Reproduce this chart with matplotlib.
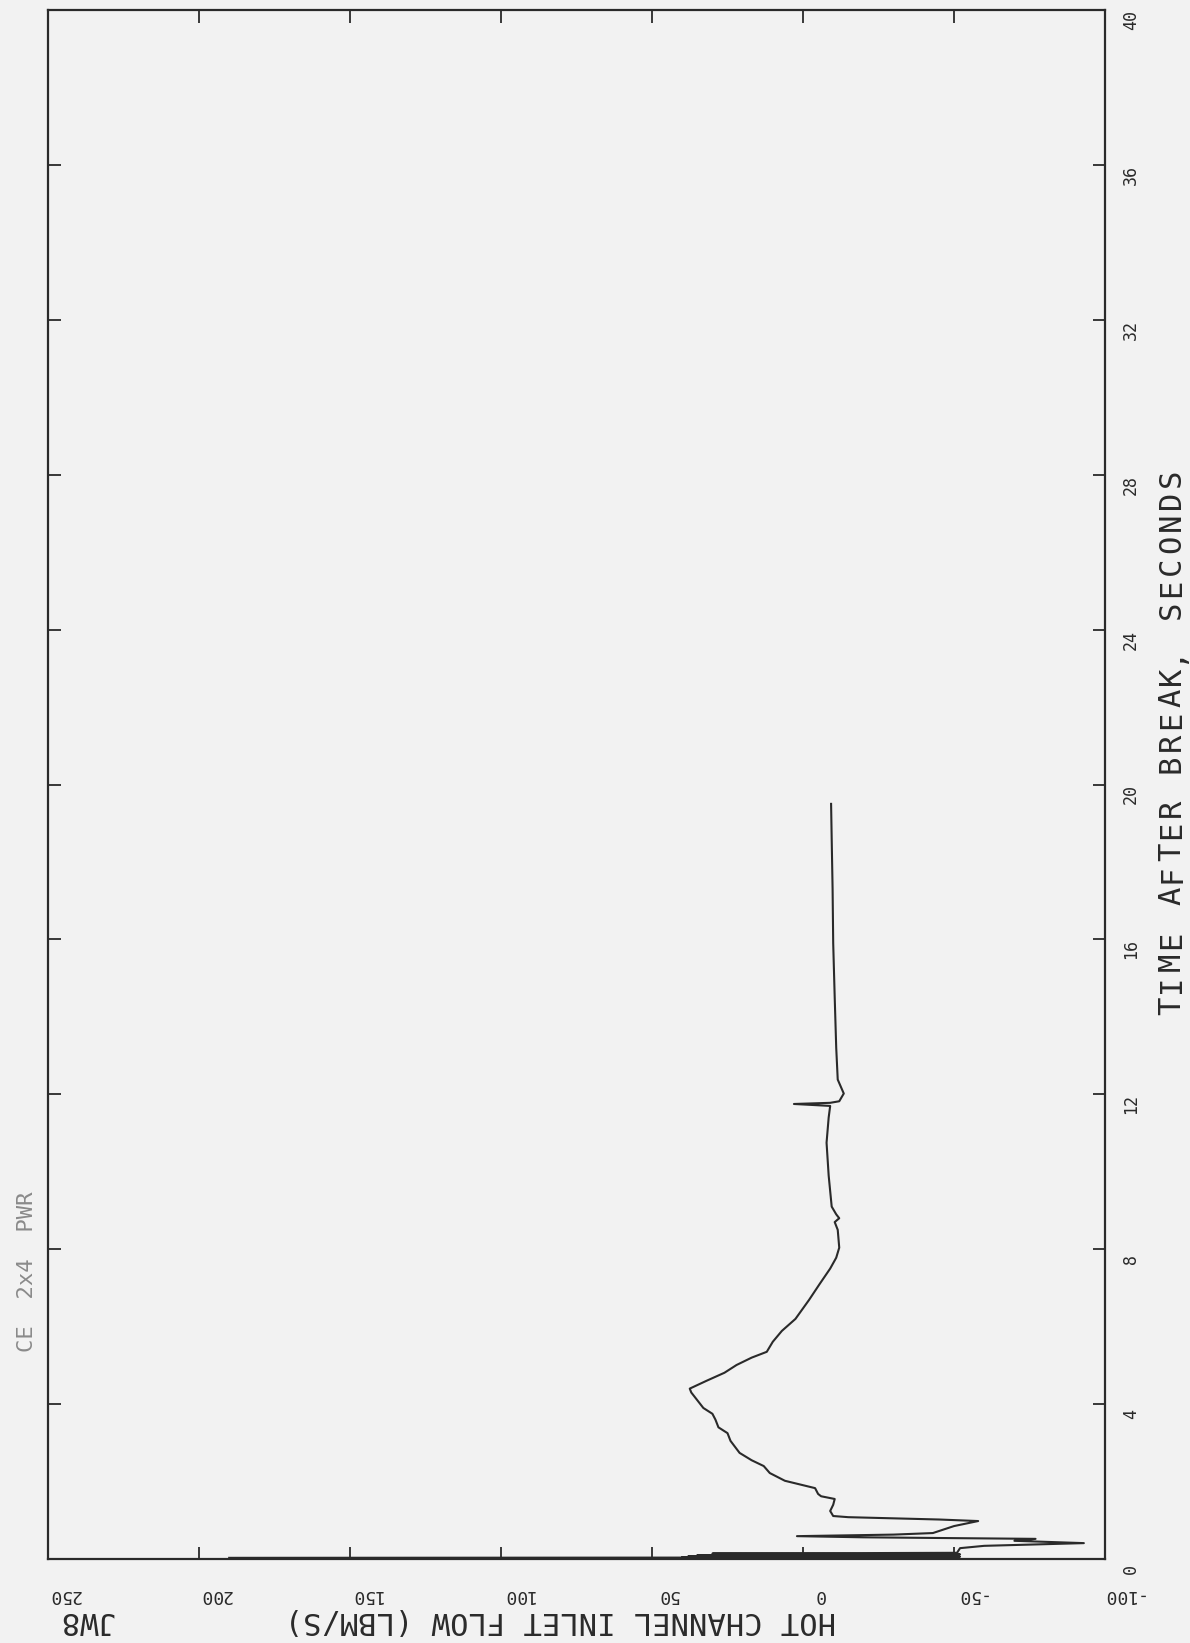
import matplotlib
matplotlib.use("Agg")
import matplotlib.pyplot as plt
from matplotlib.transforms import blended_transform_factory, offset_copy

# Hot channel inlet flow vs. time after break (plotted with time running upward)
time_s = [0.03, 0.04, 0.05, 0.06, 0.07, 0.08, 0.10, 0.12, 0.14, 0.16, 0.28, 0.34,
          0.41, 0.47, 0.52, 0.56, 0.59, 0.63, 0.67, 0.85, 0.98, 1.02, 1.08, 1.11,
          1.24, 1.40, 1.55, 1.62, 1.68, 1.83, 2.02, 2.22, 2.40, 2.55, 2.74, 3.05,
          3.25, 3.40, 3.60, 3.75, 3.90, 4.10, 4.30, 4.40, 4.60, 4.81, 5.01, 5.20,
          5.35, 5.61, 5.89, 6.20, 6.69, 7.10, 7.50, 7.78, 8.04, 8.50, 8.70, 8.80,
          8.90, 9.10, 9.90, 10.75, 11.40, 11.70, 11.75, 11.78, 11.82, 12.02, 12.38,
          13.20, 14.50, 15.90, 17.30, 18.60, 19.50]
flow_lbm_s = [190, -50, 40, -52, 38, -50, 35, -52, 30, -51, -52, -60,
              -93, -70, -77, -20, 2, -30, -43, -50, -58, -45, -15, -10,
              -9, -10, -10.5, -6, -5, -4, 6, 11, 13, 17, 21, 24,
              25, 28, 29, 30, 33, 35, 37, 37.5, 32, 26, 22, 17,
              12, 10, 7, 2.5, -2, -5.5, -9, -11, -12, -11.5, -10.5, -12,
              -11, -9.5, -8.5, -7.8, -8.5, -9, 3, -9, -12, -13.5, -11.5,
              -11, -10.5, -10, -9.8, -9.5, -9.3]

flow_ticks = [250, 200, 150, 100, 50, 0, -50, -100]
time_ticks = [0, 4, 8, 12, 16, 20, 24, 28, 32, 36, 40]

W, H = 1190, 1643
bg = "#f2f2f2"
ink = "#2a2a2a"
plt.rcParams["font.family"] = ["DejaVu Sans Mono", "DejaVu Sans"]

fig = plt.figure(figsize=(W / 100, H / 100), dpi=100, facecolor=bg)
left, right, top, bottom = 48, 1105, 10, 1559
ax = fig.add_axes([left / W, (H - bottom) / H, (right - left) / W, (bottom - top) / H])
ax.set_facecolor(bg)

ax.plot(flow_lbm_s, time_s, color=ink, lw=1.5, solid_joinstyle="round")

ax.set_xlim(250, -100)
ax.set_ylim(0, 40)
ax.set_xticks(flow_ticks)
ax.set_yticks(time_ticks)
ax.tick_params(axis="both", direction="in", length=9, width=1.3, color=ink,
               top=True, bottom=True, left=True, right=True,
               labelbottom=False, labelleft=False)
for s in ax.spines.values():
    s.set_color(ink)
    s.set_linewidth(1.6)

# flow tick labels, upside down under the bottom axis
tb = blended_transform_factory(ax.transData, ax.transAxes)
for v in flow_ticks:
    ax.text(v, 0, str(v), transform=offset_copy(tb, fig, x=16, y=-36, units="dots"),
            rotation=180, ha="center", va="center", fontsize=13, color=ink)

# time tick labels, reading bottom-to-top beside the right axis
tr = blended_transform_factory(ax.transAxes, ax.transData)
for v in time_ticks:
    ax.text(1, v, str(v), transform=offset_copy(tr, fig, x=26, y=-10, units="dots"),
            rotation=90, ha="center", va="center", fontsize=12, color=ink)


def spaced_vertical(x_base, y_mid, s, pitch, size):
    """Write s bottom-to-top, one glyph per cell of a fixed pitch (pixels)."""
    n = len(s)
    for i, ch in enumerate(s):
        y = y_mid + ((n - 1) / 2 - i) * pitch
        fig.text(x_base / W, 1 - y / H, ch, rotation=90, rotation_mode="anchor",
                 ha="center", va="baseline", fontsize=size, color=ink)


spaced_vertical(1180, 742, "TIME AFTER BREAK, SECONDS", 22, 22)

fig.text(560 / W, 1 - 1621 / H, "HOT CHANNEL INLET FLOW (LBM/S)", rotation=180,
         ha="center", va="center", fontsize=22, color=ink)
fig.text(86 / W, 1 - 1621 / H, "JW8", rotation=180,
         ha="center", va="center", fontsize=22, color=ink)
fig.text(27 / W, 1 - 1272 / H, "CE  2x4  PWR", rotation=90,
         ha="center", va="center", fontsize=16, color="#8a8a8a")

fig.savefig("out.png", dpi=100, facecolor=bg)
